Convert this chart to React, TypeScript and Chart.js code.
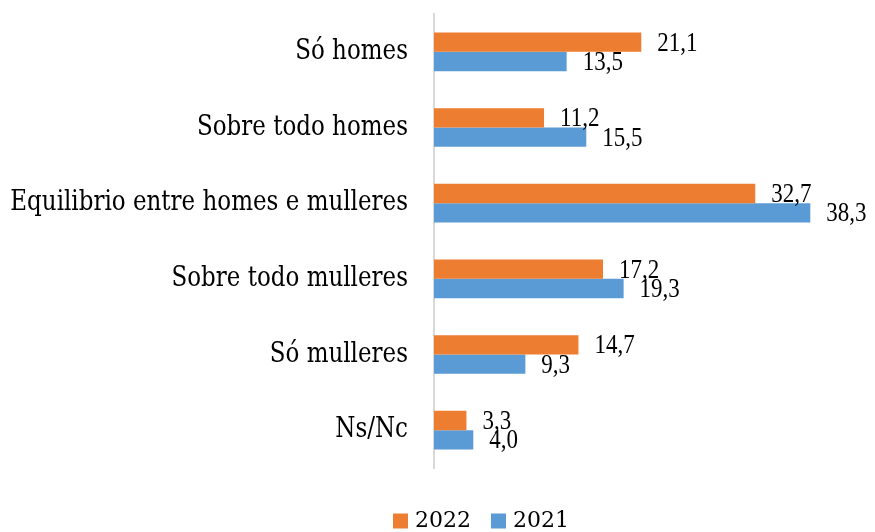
import { useEffect, useRef } from "react";
import { Chart, registerables } from "chart.js";

Chart.register(...registerables);

const categories = [
  "Só homes",
  "Sobre todo homes",
  "Equilibrio entre homes e mulleres",
  "Sobre todo mulleres",
  "Só mulleres",
  "Ns/Nc",
];
const values2022 = [21.1, 11.2, 32.7, 17.2, 14.7, 3.3];
const values2021 = [13.5, 15.5, 38.3, 19.3, 9.3, 4.0];
const seriesLabels = ["2022", "2021"];
const seriesColors = ["#ED7D31", "#5B9BD5"];
const xMin = 0;
const xMax = 40;

const fmt = (v: number) => v.toFixed(1).replace(".", ",");

const textPlugin = {
  id: "customText",
  afterDatasetsDraw(chart: any) {
    const ctx = chart.ctx as CanvasRenderingContext2D;
    const yScale = chart.scales.y;
    const area = chart.chartArea;
    ctx.save();
    ctx.fillStyle = "#000";
    // category labels
    ctx.font = "23px 'DejaVu Serif'";
    ctx.textAlign = "right";
    ctx.textBaseline = "middle";
    chart.data.labels.forEach((c: string, i: number) => {
      const y = yScale.getPixelForValue(i);
      ctx.save();
      ctx.translate(area.left - 26, y);
      ctx.scale(1, 1.18);
      ctx.fillText(c, 0, 0);
      ctx.restore();
    });
    // data labels
    ctx.font = "23px 'Liberation Serif'";
    ctx.textAlign = "left";
    chart.data.datasets.forEach((ds: any, di: number) => {
      const meta = chart.getDatasetMeta(di);
      meta.data.forEach((bar: any, i: number) => {
        const { x, y } = bar.getProps(["x", "y"], true);
        ctx.save();
        ctx.translate(x + 16, y);
        ctx.scale(1, 1.2);
        ctx.fillText(fmt(ds.data[i]), 0, 1);
        ctx.restore();
      });
    });
    // legend
    ctx.font = "22px 'DejaVu Serif'";
    ctx.textBaseline = "middle";
    let lx = 393;
    const ly = 521;
    chart.data.datasets.forEach((ds: any) => {
      ctx.fillStyle = ds.backgroundColor;
      ctx.fillRect(lx, ly - 7.5, 15, 15);
      ctx.fillStyle = "#000";
      ctx.fillText(ds.label, lx + 22, ly);
      lx += 22 + ctx.measureText(ds.label).width + 20;
    });
    ctx.restore();
  },
};

export default function App() {
  const ref = useRef<HTMLCanvasElement | null>(null);
  useEffect(() => {
    if (!ref.current) return;
    const chart = new Chart(ref.current, {
      type: "bar",
      data: {
        labels: categories,
        datasets: [
          {
            label: seriesLabels[0],
            data: values2022,
            backgroundColor: seriesColors[0],
            categoryPercentage: 0.51,
            barPercentage: 1,
          },
          {
            label: seriesLabels[1],
            data: values2021,
            backgroundColor: seriesColors[1],
            categoryPercentage: 0.51,
            barPercentage: 1,
          },
        ],
      },
      options: {
        indexAxis: "y",
        responsive: false,
        animation: false,
        layout: { padding: { left: 0, right: 48, top: 14, bottom: 64 } },
        plugins: { legend: { display: false }, tooltip: { enabled: false } },
        scales: {
          x: { display: false, min: xMin, max: xMax },
          y: {
            ticks: { display: false },
            grid: { display: false, drawTicks: false },
            border: { display: true, color: "#D9D9D9", width: 2 },
            afterFit: (scale: any) => {
              scale.width = 434;
            },
          },
        },
      },
      plugins: [textPlugin],
    });
    return () => chart.destroy();
  }, []);
  return (
    <div style={{ position: "fixed", left: 0, top: 0, width: 875, height: 532, background: "#fff" }}>
      <canvas ref={ref} width={875} height={532} style={{ display: "block" }} />
    </div>
  );
}
